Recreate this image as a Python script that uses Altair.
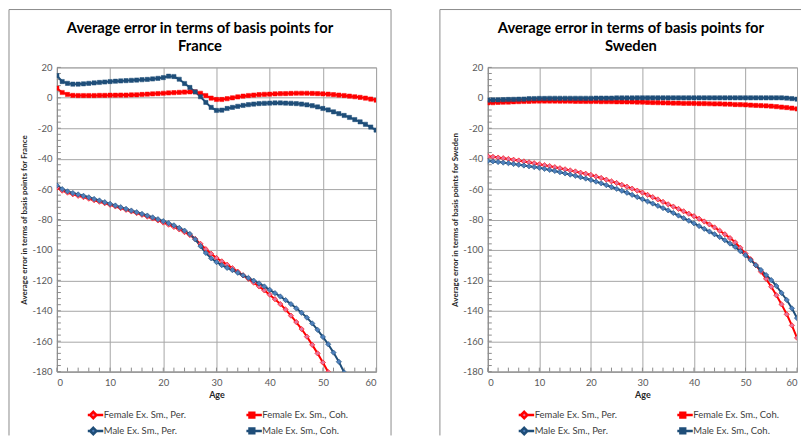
import altair as alt
import pandas as pd

FONT = "Lato"
SERIES = ["Female Ex. Sm., Per.", "Female Ex. Sm., Coh.", "Male Ex. Sm., Per.", "Male Ex. Sm., Coh."]
LINE_KEYS = ["F-Per", "F-Coh", "M-Per", "M-Coh"]
TITLE_LINE1 = "Average error in terms of basis points for"

# ---- France (values per age 0,1,2,...) ----
fr_female_per = [-59.0, -61.0, -62.3, -63.4, -64.4, -65.3, -66.3, -67.3, -68.3, -69.3, -70.3, -71.4, -72.5, -73.6,
                 -74.7, -75.8, -76.9, -78.1, -79.3, -80.6, -82.0, -83.4, -84.9, -86.5, -88.3, -90.2, -92.8, -96.0,
                 -99.5, -102.5, -105.3, -107.5, -109.7, -112.0, -114.3, -116.7, -119.0, -121.5, -124.0, -126.6,
                 -129.4, -132.4, -135.6, -139.2, -143.2, -147.4, -152.0, -157.0, -162.4, -168.0, -174.0, -180.3, -187.0]
fr_female_coh = [6.3, 3.5, 2.2, 1.6, 1.5, 1.5, 1.5, 1.5, 1.6, 1.6, 1.7, 1.7, 1.8, 1.8, 1.9, 2.0, 2.2, 2.4, 2.6, 2.8,
                 3.0, 3.2, 3.4, 3.6, 3.8, 3.9, 3.9, 3.0, 1.5, -0.2, -1.1, -1.1, -0.6, 0.0, 0.6, 1.1, 1.5, 1.8, 2.1,
                 2.3, 2.4, 2.6, 2.7, 2.8, 2.9, 3.0, 3.0, 3.0, 2.9, 2.8, 2.6, 2.4, 2.1, 1.8, 1.5, 1.1, 0.7, 0.3, -0.2,
                 -0.8, -1.5]
fr_male_per = [-57.6, -60.0, -61.5, -62.6, -63.5, -64.4, -65.4, -66.5, -67.5, -68.6, -69.7, -70.8, -71.9, -73.0,
               -74.1, -75.2, -76.3, -77.4, -78.6, -79.8, -81.1, -82.4, -83.8, -85.5, -87.3, -89.5, -93.0, -97.5,
               -102.0, -105.5, -108.0, -110.0, -111.8, -113.3, -115.0, -116.7, -118.4, -120.2, -122.0, -124.0,
               -126.2, -128.4, -130.6, -133.0, -135.6, -138.4, -141.3, -144.5, -148.3, -152.5, -157.2, -162.0,
               -167.5, -173.5, -180.5, -187.5]
fr_male_coh = [14.6, 10.7, 9.5, 9.0, 9.0, 9.2, 9.5, 9.8, 10.1, 10.4, 10.7, 10.9, 11.1, 11.3, 11.5, 11.7, 11.9, 12.1,
               12.4, 12.8, 13.3, 14.2, 14.0, 12.2, 9.4, 6.8, 3.9, 0.7, -3.0, -6.3, -8.3, -8.1, -7.0, -6.3, -5.6, -5.0,
               -4.5, -4.1, -3.8, -3.6, -3.5, -3.4, -3.4, -3.5, -3.6, -3.8, -4.1, -4.6, -5.2, -6.0, -7.0, -8.0, -9.2,
               -10.4, -11.6, -12.9, -14.3, -15.8, -17.4, -19.2, -21.2]

# ---- Sweden ----
se_female_per = [-38.4, -38.8, -39.3, -39.7, -40.2, -40.7, -41.2, -41.8, -42.4, -43.0, -43.7, -44.3, -44.9, -45.6,
                 -46.3, -47.0, -47.7, -48.4, -49.2, -49.9, -50.7, -51.7, -52.7, -53.8, -54.9, -56.0, -57.2, -58.4,
                 -59.7, -61.0, -62.3, -63.8, -65.3, -66.8, -68.4, -70.0, -71.5, -73.0, -74.6, -76.2, -77.8, -79.5,
                 -81.3, -83.2, -85.2, -87.4, -89.7, -92.2, -95.0, -98.6, -102.4, -106.1, -110.0, -114.3, -119.0,
                 -124.2, -129.8, -135.8, -142.3, -149.6, -157.8]
se_female_coh = [-3.3, -3.2, -3.0, -2.9, -2.8, -2.6, -2.5, -2.4, -2.3, -2.2, -2.1, -2.1, -2.1, -2.1, -2.2, -2.2, -2.2,
                 -2.3, -2.3, -2.4, -2.4, -2.4, -2.5, -2.5, -2.5, -2.6, -2.6, -2.7, -2.7, -2.8, -2.8, -3.0, -3.1, -3.2,
                 -3.3, -3.4, -3.5, -3.5, -3.6, -3.6, -3.7, -3.8, -3.8, -3.9, -4.0, -4.0, -4.1, -4.2, -4.4, -4.5, -4.6,
                 -4.8, -5.0, -5.1, -5.3, -5.5, -5.8, -6.1, -6.4, -6.8, -7.3]
se_male_per = [-41.5, -41.8, -42.2, -42.6, -43.0, -43.5, -44.0, -44.5, -45.0, -45.5, -46.0, -46.7, -47.4, -48.1,
               -48.9, -49.7, -50.5, -51.3, -52.2, -53.1, -54.0, -55.1, -56.2, -57.4, -58.6, -59.8, -61.1, -62.4,
               -63.8, -65.2, -66.6, -68.1, -69.5, -71.0, -72.5, -74.0, -75.7, -77.4, -79.1, -80.8, -82.5, -84.3,
               -86.1, -87.9, -89.7, -91.5, -93.6, -95.8, -98.0, -100.8, -103.5, -106.7, -110.0, -113.2, -116.5,
               -119.8, -123.7, -128.3, -132.9, -138.4, -144.8]
se_male_coh = [-1.5, -1.4, -1.3, -1.2, -1.1, -1.0, -0.9, -0.8, -0.6, -0.5, -0.4, -0.4, -0.3, -0.3, -0.3, -0.3, -0.3,
               -0.3, -0.3, -0.3, -0.3, -0.2, -0.2, -0.2, -0.2, -0.1, -0.1, -0.1, -0.1, 0.0, 0.0, 0.0, 0.0, 0.0, 0.0,
               0.0, 0.0, 0.0, 0.0, 0.0, 0.0, 0.0, 0.0, 0.0, 0.0, 0.0, 0.0, 0.0, 0.0, 0.0, 0.0, 0.0, 0.0, 0.0, 0.0,
               0.0, 0.0, 0.0, -0.2, -0.5, -0.9]

x_major = [0, 10, 20, 30, 40, 50, 60]
y_major = [-180, -160, -140, -120, -100, -80, -60, -40, -20, 0, 20]
x_minor = list(range(0, 61, 2))
y_minor = list(range(-180, 21, 4))

RED = "#ff0000"
NAVY = "#1f4e79"
LINE_COLORS = [RED, RED, NAVY, NAVY]
FILL_COLORS = ["#e8739b", RED, "#4f81bd", NAVY]
STROKE_COLORS = [RED, RED, NAVY, NAVY]
DIA = "M-2.5,0H-0.8M0.8,0H2.5M0,-0.8L0.8,0L0,0.8L-0.8,0Z"
SQR = "M-2.5,0H-0.6M0.6,0H2.5M-0.6,-0.6H0.6V0.6H-0.6Z"
LEG_SHAPES = [DIA, SQR, DIA, SQR]

H = 305
BORDER = "#8c8c8c"


def long_df(arrays):
    rows = []
    for name, key, vals in zip(SERIES, LINE_KEYS, arrays):
        for a, v in enumerate(vals):
            rows.append({"age": a, "value": v, "series": name, "lk": key})
    return pd.DataFrame(rows)


def panel(country, arrays, width, right_edge, closed):
    df = long_df(arrays)
    X = alt.X("age:Q", scale=alt.Scale(domain=[0, 60], nice=False, zero=False),
              axis=alt.Axis(values=x_major, title="Age", grid=True, ticks=False, labelPadding=6,
                            titlePadding=3, titleFontSize=9))
    Y = alt.Y("value:Q", scale=alt.Scale(domain=[-180, 20], nice=False, zero=False),
              axis=alt.Axis(values=y_major, title=f"Average error in terms of basis points for {country}",
                            grid=True, ticks=False, labelPadding=5, titlePadding=3,
                            labelExpr="toString(datum.value)"))
    leg = alt.Legend(orient="none", legendX=31, legendY=343, columns=2, direction="horizontal",
                     title=None, labelFont=FONT, labelFontSize=9.5, labelColor="#404040", symbolSize=64,
                     symbolStrokeWidth=2.5, labelOffset=5, columnPadding=60, rowPadding=5, clipHeight=11,
                     padding=0)
    fill = alt.Fill("series:N", scale=alt.Scale(domain=SERIES, range=FILL_COLORS), legend=leg)
    stroke = alt.Stroke("series:N", scale=alt.Scale(domain=SERIES, range=STROKE_COLORS), legend=leg)

    one = alt.Data(values=[{"k": 1}])
    frame = [
        alt.Chart(one).mark_rule(color=BORDER, strokeWidth=1).encode(
            x=alt.value(-48), x2=alt.value(right_edge), y=alt.value(-58)),
        alt.Chart(one).mark_rule(color=BORDER, strokeWidth=1).encode(
            x=alt.value(-48), y=alt.value(-58), y2=alt.value(369)),
    ]
    if closed:
        frame.append(alt.Chart(one).mark_rule(color=BORDER, strokeWidth=1).encode(
            x=alt.value(right_edge), y=alt.value(-58), y2=alt.value(369)))

    title_style = dict(font=FONT, fontSize=14.8, fontWeight="bold", align="center", baseline="alphabetic",
                       color="#000000")
    title1 = alt.Chart(one).mark_text(**title_style).encode(
        x=alt.value(143.5), y=alt.value(-34.8), text=alt.value(TITLE_LINE1))
    title2 = alt.Chart(one).mark_text(**title_style).encode(
        x=alt.value(143.5), y=alt.value(-16.5), text=alt.value(country))

    minor_x = alt.Chart(pd.DataFrame({"age": x_minor})).mark_rule(color=BORDER, strokeWidth=1).encode(
        x=X, y=alt.value(H), y2=alt.value(H - 4))
    minor_y = alt.Chart(pd.DataFrame({"value": y_minor})).mark_rule(color=BORDER, strokeWidth=1).encode(
        y=Y, x=alt.value(0), x2=alt.value(4))

    base = alt.Chart(df)
    lines = base.mark_line(strokeWidth=2, clip=True).encode(
        x=X, y=Y, color=alt.Color("lk:N", scale=alt.Scale(domain=LINE_KEYS, range=LINE_COLORS), legend=None))
    per = base.transform_filter(alt.FieldOneOfPredicate(field="series", oneOf=[SERIES[0], SERIES[2]])).mark_point(
        shape="diamond", filled=True, opacity=1, size=28, strokeWidth=0.6, clip=True
    ).encode(x=X, y=Y, fill=fill, stroke=stroke)
    coh = base.transform_filter(alt.FieldOneOfPredicate(field="series", oneOf=[SERIES[1], SERIES[3]])).mark_point(
        shape="square", filled=True, opacity=1, size=18, strokeWidth=0.5, clip=True
    ).encode(x=X, y=Y, fill=fill, stroke=stroke)

    dummy = pd.DataFrame({"age": [0, 0, 0, 0], "value": [-1000, -1000, -1000, -1000], "series": SERIES})
    legend_layer = alt.Chart(dummy).mark_point(filled=True, opacity=1, size=64, strokeWidth=2.5, clip=True).encode(
        x=X, y=Y, fill=fill, stroke=stroke,
        shape=alt.Shape("series:N", scale=alt.Scale(domain=SERIES, range=LEG_SHAPES), legend=leg))

    return alt.layer(*frame, title1, title2, minor_x, minor_y, lines, per, coh, legend_layer).properties(
        width=width, height=H)


fr = panel("France", [fr_female_per, fr_female_coh, fr_male_per, fr_male_coh], 320, 335, True)
se = panel("Sweden", [se_female_per, se_female_coh, se_male_per, se_male_coh], 310, 314, False)

chart = alt.hconcat(fr, se, spacing=47).resolve_scale(
    color="independent", fill="independent", stroke="independent", shape="independent"
).properties(padding=0, background="white").configure_view(
    stroke="#a6a6a6", strokeWidth=1
).configure_axis(
    labelFont=FONT, labelFontSize=9.5, labelColor="#595959", titleFont=FONT, titleFontSize=8,
    titleFontWeight="bold", titleColor="#262626", gridColor="#a6a6a6", gridWidth=1,
    domainColor="#8c8c8c", domainWidth=1
)

chart.save("out.html", embed_options={"renderer": "svg", "actions": False})
